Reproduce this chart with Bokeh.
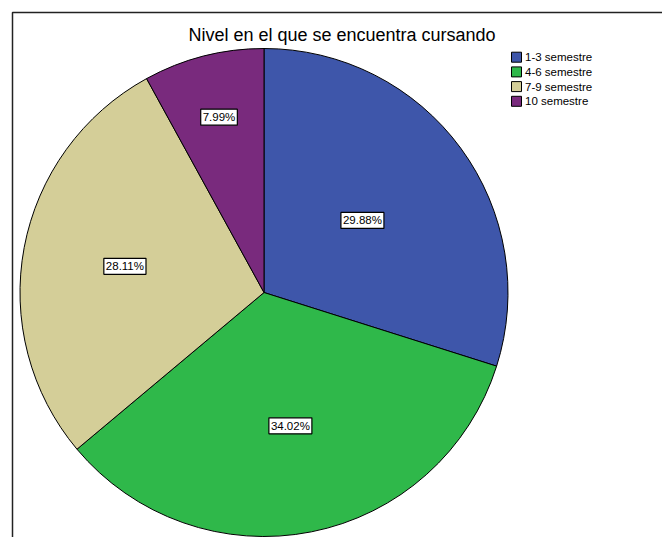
import math
from bokeh.plotting import figure
from bokeh.models import Range1d, ColumnDataSource
from bokeh.embed import file_html
from bokeh.resources import INLINE
from bokeh.core.properties import value

# ---- data ----
categories = ["1-3 semestre", "4-6 semestre", "7-9 semestre", "10 semestre"]
percentages = [29.88, 34.02, 28.11, 7.99]
colors = ["#3E56AA", "#2FB84A", "#D4CE98", "#792A7D"]
title_text = "Nivel en el que se encuentra cursando"

# ---- layout constants (page pixels) ----
W, H = 662, 537
CX, CY, R = 263.5, 292.0, 244.0
label_radius_frac = [0.50, 0.557, 0.58, 0.742]
FONT = "Liberation Sans"

p = figure(width=W, height=H, output_backend="svg", toolbar_location=None,
           x_range=Range1d(0, W), y_range=Range1d(-H, 0),
           x_axis_location=None, y_axis_location=None,
           min_border=0, outline_line_color=None)
p.grid.visible = False
p.background_fill_color = "white"
p.border_fill_color = "white"

# outer frame (clipped at right/bottom like the reference)
p.quad(left=12, right=900, top=-12, bottom=-900, fill_color=None,
       line_color="#222222", line_width=1.5)

# wedges
starts, ends, lx, ly, texts = [], [], [], [], []
cum = 0.0
for i, v in enumerate(percentages):
    a0 = math.pi / 2 - 2 * math.pi * cum / 100.0
    cum += v
    a1 = math.pi / 2 - 2 * math.pi * cum / 100.0
    starts.append(a0)
    ends.append(a1)
    mid = (a0 + a1) / 2
    r = R * label_radius_frac[i]
    lx.append(CX + r * math.cos(mid))
    ly.append(-CY + r * math.sin(mid))
    texts.append(f"{v:.2f}%")

src = ColumnDataSource(dict(start=starts, end=ends, color=colors, cat=categories))
p.wedge(x=CX, y=-CY, radius=R, start_angle="start", end_angle="end",
        direction="clock", fill_color="color", line_color="black",
        line_width=1, source=src)

lsrc = ColumnDataSource(dict(x=lx, y=ly, t=texts))
p.text(x="x", y="y", text="t", source=lsrc,
       text_align="center", text_baseline="middle",
       text_font=value(FONT), text_font_size="11.5px", text_color="black",
       background_fill_color="white", border_line_color="black",
       border_line_width=1.2, padding=2)

# title
p.text(x=[341.5], y=[-34], text=[title_text], text_font=value(FONT),
       text_font_size="18px", text_align="center", text_baseline="middle",
       text_color="black")

# legend
leg_y = [-(56.7 + 14.7 * i) for i in range(len(categories))]
p.rect(x=[516] * len(categories), y=leg_y, width=10, height=10,
       fill_color=colors, line_color="black", line_width=1)
p.text(x=[524.5] * len(categories), y=leg_y, text=categories,
       text_font=value(FONT), text_font_size="11.5px",
       text_align="left", text_baseline="middle", text_color="black")

open("out.html", "w").write(file_html(p, INLINE))
